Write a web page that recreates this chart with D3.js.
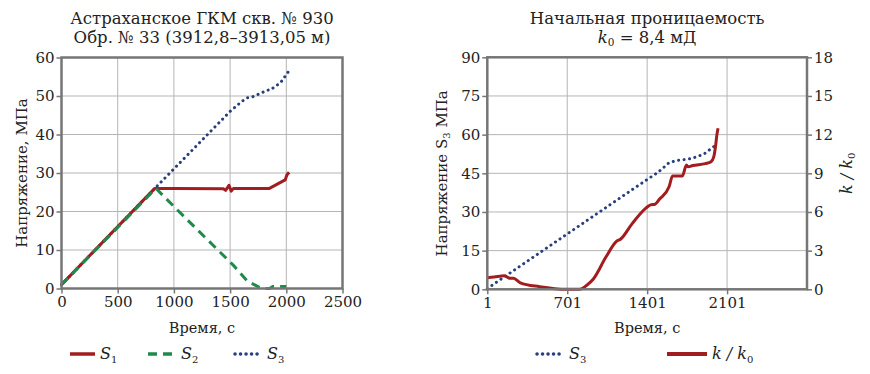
<!DOCTYPE html>
<html><head><meta charset="utf-8">
<script src="https://cdn.jsdelivr.net/npm/d3@7"></script>
<style>
body{margin:0;background:#fff;}
</style></head>
<body><svg id="c" width="870" height="374" font-family="DejaVu Serif"></svg>
<script>
// ---- Left chart data ----
const leftXTicks = [0, 500, 1000, 1500, 2000, 2500];
const leftYTicks = [0, 10, 20, 30, 40, 50, 60];
const s1Time = [0, 830, 1000, 1440, 1460, 1490, 1510, 1530, 1850, 1990, 2005, 2025];
const s1Val  = [1, 26, 26, 25.9, 25.5, 26.8, 25.3, 26, 26, 28.2, 29.5, 30.2];
const s2Time = [0, 840, 1000, 1530, 1650, 1760, 1800, 1850, 1880, 2000];
const s2Val  = [1, 26, 21.3, 6, 2, 0.3, 0, 0, 0.5, 0.5];
const s3Time = [0, 830, 1500, 1600, 1650, 1700, 1780, 1830, 1860, 1950, 2030];
const s3Val  = [1, 26, 46, 48.5, 49.5, 49.8, 50.8, 51.5, 51.6, 53.5, 56.8];

// ---- Right chart data ----
const rightXTicks = [1, 701, 1401, 2101];
const rightYTicks = [0, 15, 30, 45, 60, 75, 90];
const rightY2Ticks = [0, 3, 6, 9, 12, 15, 18];
const r3Time = [1, 1331, 1500, 1593, 1660, 1709, 1797, 1900, 1983, 2000];
const r3Val  = [0.3, 40.5, 45.5, 49.1, 50, 50.2, 50.8, 52.5, 55.3, 55.8];
const kTime = [1, 60, 150, 200, 230, 290, 460, 700, 810, 870, 930, 1040, 1130, 1170, 1270, 1390, 1430, 1470, 1510, 1594, 1623, 1710, 1745, 1760, 1800, 1910, 1960, 1985, 2000, 2012, 2022];
const kVal  = [0.9, 0.95, 1.05, 0.85, 0.85, 0.5, 0.2, 0, 0, 0.3, 0.8, 2.5, 3.7, 3.9, 5.1, 6.3, 6.55, 6.6, 7.0, 7.97, 8.8, 8.8, 9.65, 9.5, 9.6, 9.75, 9.9, 10.3, 11.1, 12.0, 12.5];

const RED = "#a11d1f", GREEN = "#21894b", BLUE = "#27407d";
const GRID = "#b5b5b5", AXIS = "#767676";
const FONT = "DejaVu Serif";
const svg = d3.select("#c");

function zip(a, b){ return a.map((t,i)=>[t,b[i]]); }

function frame(x, y, xTicks, yTicks, x0, x1, y0, y1){
  const g = svg.append("g");
  g.selectAll(".vg").data(xTicks.filter(t=>x(t)>x0+1 && x(t)<x1-1)).join("line")
    .attr("x1",d=>x(d)).attr("x2",d=>x(d)).attr("y1",y1).attr("y2",y0)
    .attr("stroke",GRID).attr("stroke-width",1);
  g.selectAll(".hg").data(yTicks.filter(t=>y(t)<y0-1 && y(t)>y1+1)).join("line")
    .attr("x1",x0).attr("x2",x1).attr("y1",d=>y(d)).attr("y2",d=>y(d))
    .attr("stroke",GRID).attr("stroke-width",1);
  return g;
}

function axisStyle(sel){
  sel.attr("font-family",FONT).attr("font-size",15);
  sel.select(".domain").remove();
  sel.selectAll(".tick line").attr("stroke",AXIS).attr("stroke-width",1.5);
  sel.selectAll(".tick text").attr("fill","#222");
}
function txt(x,y,anchor,size){
  return svg.append("text").attr("x",x).attr("y",y).attr("text-anchor",anchor)
    .attr("font-family",FONT).attr("font-size",size).attr("fill","#222");
}

// ============ LEFT CHART ============
{
  const x0=61.5, x1=342.5, y0=288.5, y1=57.5;
  const x = d3.scaleLinear().domain([0,2500]).range([x0,x1]);
  const y = d3.scaleLinear().domain([0,60]).range([y0,y1]);
  frame(x,y,leftXTicks,leftYTicks,x0,x1,y0,y1);
  const line = d3.line().x(d=>x(d[0])).y(d=>y(d[1]));
  svg.append("path").datum(zip(s3Time,s3Val)).attr("d",line).attr("fill","none")
    .attr("stroke",BLUE).attr("stroke-width",3).attr("stroke-linecap","round").attr("stroke-dasharray","0.1 5.4");
  svg.append("path").datum(zip(s1Time,s1Val)).attr("d",line).attr("fill","none")
    .attr("stroke",RED).attr("stroke-width",3).attr("stroke-linejoin","round");
  svg.append("path").datum(zip(s2Time,s2Val)).attr("d",line).attr("fill","none")
    .attr("stroke",GREEN).attr("stroke-width",3).attr("stroke-dasharray","9 6");
  svg.append("rect").attr("x",x0).attr("y",y1).attr("width",x1-x0).attr("height",y0-y1)
    .attr("fill","none").attr("stroke",AXIS).attr("stroke-width",2.5);
  const ax = svg.append("g").attr("transform",`translate(0,${y0})`)
    .call(d3.axisBottom(x).tickValues(leftXTicks).tickFormat(d3.format("d")).tickSize(5).tickPadding(3));
  axisStyle(ax);
  const ay = svg.append("g").attr("transform",`translate(${x0},0)`)
    .call(d3.axisLeft(y).tickValues(leftYTicks).tickFormat(d3.format("d")).tickSize(5).tickPadding(2));
  axisStyle(ay);
  const cx = (x0+x1)/2;
  txt(cx,24,"middle",16.5).text("Астраханское ГКМ скв. № 930");
  txt(cx,43,"middle",16.5).text("Обр. № 33 (3912,8–3913,05 м)");
  txt(cx,333,"middle",14.5).text("Время, с");
  txt(0,0,"middle",15).attr("transform",`translate(27,${(y0+y1)/2}) rotate(-90)`).text("Напряжение, МПа");
  const ly = 354;
  const leg = [
    {x:70, w:25, c:RED, dash:null, lab:"1"},
    {x:148, w:28, c:GREEN, dash:"9 6", lab:"2"},
    {x:235, w:27, c:BLUE, dash:"0.1 5.4", lab:"3"}
  ];
  leg.forEach(l=>{
    const p = svg.append("line").attr("x1",l.x).attr("x2",l.x+l.w).attr("y1",ly).attr("y2",ly)
      .attr("stroke",l.c).attr("stroke-width",3.5);
    if(l.dash) p.attr("stroke-dasharray",l.dash).attr("stroke-linecap",l.dash.startsWith("0.1")?"round":"butt");
    const t = txt(l.x+l.w+5,ly+5,"start",16);
    t.append("tspan").attr("font-style","italic").text("S");
    t.append("tspan").attr("dy",4).attr("font-size",10).text(l.lab);
  });
}

// ============ RIGHT CHART ============
{
  const x0=487.3, x1=807, y0=289.3, y1=57.3;
  const x = d3.scaleLinear().domain([1,2801]).range([x0,x1]);
  const y = d3.scaleLinear().domain([0,90]).range([y0,y1]);
  const y2 = d3.scaleLinear().domain([0,18]).range([y0,y1]);
  frame(x,y,rightXTicks,rightYTicks,x0,x1,y0,y1);
  const line = d3.line().x(d=>x(d[0])).y(d=>y(d[1]));
  const line2 = d3.line().x(d=>x(d[0])).y(d=>y2(d[1])).curve(d3.curveMonotoneX);
  svg.append("path").datum(zip(r3Time,r3Val)).attr("d",line).attr("fill","none")
    .attr("stroke",BLUE).attr("stroke-width",3).attr("stroke-linecap","round").attr("stroke-dasharray","0.1 5.4");
  svg.append("path").datum(zip(kTime,kVal)).attr("d",line2).attr("fill","none")
    .attr("stroke",RED).attr("stroke-width",3).attr("stroke-linejoin","round");
  svg.append("rect").attr("x",x0).attr("y",y1).attr("width",x1-x0).attr("height",y0-y1)
    .attr("fill","none").attr("stroke",AXIS).attr("stroke-width",2.5);
  const ax = svg.append("g").attr("transform",`translate(0,${y0})`)
    .call(d3.axisBottom(x).tickValues(rightXTicks).tickFormat(d3.format("d")).tickSize(5).tickPadding(3));
  axisStyle(ax);
  const ay = svg.append("g").attr("transform",`translate(${x0},0)`)
    .call(d3.axisLeft(y).tickValues(rightYTicks).tickFormat(d3.format("d")).tickSize(5).tickPadding(2));
  axisStyle(ay);
  const ay2 = svg.append("g").attr("transform",`translate(${x1},0)`)
    .call(d3.axisRight(y2).tickValues(rightY2Ticks).tickFormat(d3.format("d")).tickSize(5).tickPadding(2));
  axisStyle(ay2);
  const cx = (x0+x1)/2;
  txt(cx,24,"middle",16.5).text("Начальная проницаемость");
  const t2 = txt(cx,43,"middle",16.5);
  t2.append("tspan").attr("font-style","italic").text("k");
  t2.append("tspan").attr("dy",3).attr("font-size",10.5).text("0");
  t2.append("tspan").attr("dy",-3).text(" = 8,4 мД");
  txt(cx,333,"middle",14.5).text("Время, с");
  const yl = txt(0,0,"middle",15).attr("transform",`translate(447,${(y0+y1)/2}) rotate(-90)`);
  yl.append("tspan").text("Напряжение S");
  yl.append("tspan").attr("dy",3).attr("font-size",10).text("3");
  yl.append("tspan").attr("dy",-3).text(" МПа");
  const rl = txt(0,0,"middle",16).attr("transform",`translate(852,${(y0+y1)/2}) rotate(-90)`);
  rl.append("tspan").attr("font-style","italic").text("k / k");
  rl.append("tspan").attr("dy",3).attr("font-size",10).text("0");
  const ly = 354;
  svg.append("line").attr("x1",537).attr("x2",563).attr("y1",ly).attr("y2",ly)
    .attr("stroke",BLUE).attr("stroke-width",3.5).attr("stroke-dasharray","0.1 5.4").attr("stroke-linecap","round");
  const la = txt(569,ly+5,"start",16);
  la.append("tspan").attr("font-style","italic").text("S");
  la.append("tspan").attr("dy",4).attr("font-size",10).text("3");
  svg.append("line").attr("x1",667).attr("x2",707).attr("y1",ly).attr("y2",ly)
    .attr("stroke",RED).attr("stroke-width",4);
  const lb = txt(712,ly+5,"start",16);
  lb.append("tspan").attr("font-style","italic").text("k / k");
  lb.append("tspan").attr("dy",4).attr("font-size",10).text("0");
}
</script></body></html>
